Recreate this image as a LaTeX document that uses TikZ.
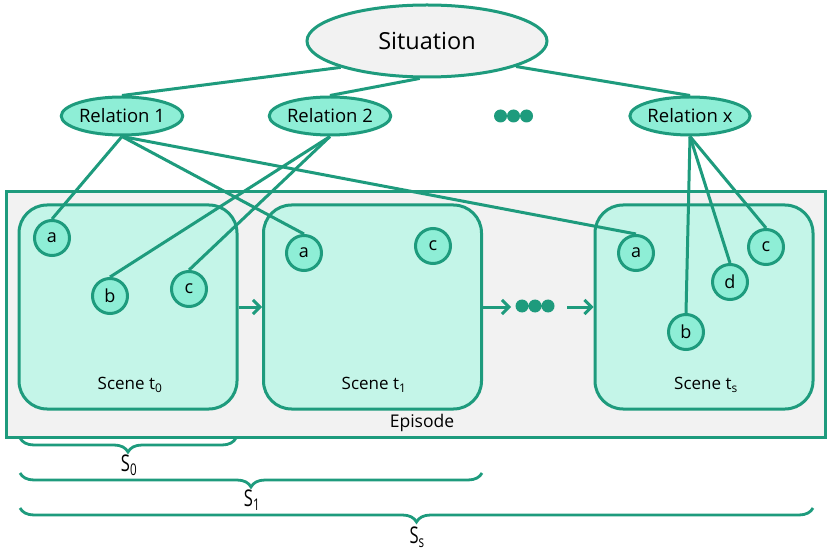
\documentclass[tikz,border=0pt]{standalone}
\usepackage{fontspec}
\setmainfont{Open Sans}
\usetikzlibrary{shapes.geometric,arrows.meta,decorations.pathreplacing}
\definecolor{teal}{RGB}{30,155,125}
\definecolor{mint}{RGB}{142,238,214}
\definecolor{scenefill}{RGB}{196,245,232}
\definecolor{grayfill}{RGB}{242,242,242}
\pgfdeclarelayer{back}
\pgfdeclarelayer{links}
\pgfsetlayers{back,links,main}
\begin{document}
\begin{tikzpicture}[x=1pt,y=-1pt,
  thick line/.style={line width=3pt},
  conn/.style={draw=teal,thick line},
  sitnode/.style={ellipse,draw=teal,thick line,fill=grayfill,minimum width=240,minimum height=72,inner sep=0pt,font=\fontsize{23.5}{28}\selectfont},
  relnode/.style={ellipse,draw=teal,thick line,fill=mint,minimum width=116,minimum height=38,inner sep=0pt,font=\fontsize{18.5}{22}\selectfont},
  framebox/.style={draw=teal,thick line,fill=grayfill,inner sep=0pt},
  scenebox/.style={draw=teal,thick line,fill=scenefill,rounded corners=28pt,minimum width=218,minimum height=204,inner sep=0pt},
  scenelabel/.style={inner sep=0pt,font=\fontsize{17}{20}\selectfont},
  obj/.style={circle,draw=teal,thick line,fill=mint,minimum size=35,inner sep=0pt,font=\fontsize{18}{21}\selectfont},
  flow/.style={draw=teal,thick line,-{Straight Barb[length=7pt,width=14pt]}},
  dot/.style={fill=teal},
  spanbrace/.style={draw=teal,line width=2.8pt,decorate,decoration={brace,mirror,amplitude=14pt}},
  spanlabel/.style={inner sep=0pt,font=\fontsize{23}{27}\selectfont}
]
\useasboundingbox (0,0) rectangle (827,553);

% situation and relations
\node[sitnode] (sit) at (427,41) {Situation};
\node[relnode] (r1) at (122,116) {Relation 1};
\node[relnode] (r2) at (330,116) {Relation 2};
\node[relnode] (rx) at (690,116) {Relation x};
\fill[dot] (500.5,116) circle (6.5) (513.5,116) circle (6.5) (526.5,116) circle (6.5);

% objects inside the scenes
\node[obj] (a0) at (52,238) {a};
\node[obj] (b0) at (110,296) {b};
\node[obj] (c0) at (189,289) {c};
\node[obj] (a1) at (304,253) {a};
\node[obj] (c1) at (433,246) {c};
\node[obj] (as) at (636,253) {a};
\node[obj] (bs) at (686,332) {b};
\node[obj] (ds) at (730,282) {d};
\node[obj] (cs) at (766,247) {c};

% episode frame with its scenes
\begin{pgfonlayer}{back}
\node[framebox,minimum width=819,minimum height=245] (episode) at (415.5,314.5) {};
\node[inner sep=0pt,font=\fontsize{17.5}{20}\selectfont] (eplabel) at (422,423) {Episode};
\node[scenebox] (s0) at (128,307) {};
\node[scenebox] (s1) at (372.5,307) {};
\node[scenebox] (ss) at (704,307) {};
\node[scenelabel] (l0) at (130,385) {Scene t\textsubscript{0}};
\node[scenelabel] (l1) at (374,385) {Scene t\textsubscript{1}};
\node[scenelabel] (ls) at (706,385) {Scene t\textsubscript{s}};
\coordinate (gapin) at (511,307);
\coordinate (gapout) at (567,307);
\draw[flow] (s0.east) -- (s1.west);
\draw[flow] (s1.east) -- (gapin);
\draw[flow] (gapout) -- (ss.west);
\fill[dot] (522,306) circle (6.5) (535,306) circle (6.5) (548,306) circle (6.5);
\end{pgfonlayer}

% relation links
\begin{pgfonlayer}{links}
\draw[conn] (sit.197) -- (r1.north);
\draw[conn] (sit.259) -- (r2.north);
\draw[conn] (sit.344) -- (rx.north);
\draw[conn] (r1.south) -- (a0.north);
\draw[conn] (r1.south) -- (a1.north);
\draw[conn] (r1.south) -- (as.north);
\draw[conn] (r2.south) -- (b0.north);
\draw[conn] (r2.south) -- (c0.north);
\draw[conn] (rx.south) -- (bs.north);
\draw[conn] (rx.south) -- (ds.north);
\draw[conn] (rx.south) -- (cs.north);
\end{pgfonlayer}

% spans
\coordinate (b0l) at (20,438);
\coordinate (b0r) at (236,438);
\coordinate (b1l) at (20,473);
\coordinate (b1r) at (482,473);
\coordinate (bsl) at (20,508);
\coordinate (bsr) at (813,508);
\draw[spanbrace] (b0l) -- (b0r);
\draw[spanbrace] (b1l) -- (b1r);
\draw[spanbrace] (bsl) -- (bsr);
\node[spanlabel] (S0) at (129,465) {\scalebox{0.72}[1]{S\textsubscript{0}}};
\node[spanlabel] (S1) at (252,500) {\scalebox{0.72}[1]{S\textsubscript{1}}};
\node[spanlabel] (Ss) at (417,537) {\scalebox{0.72}[1]{S\textsubscript{s}}};
\end{tikzpicture}
\end{document}
